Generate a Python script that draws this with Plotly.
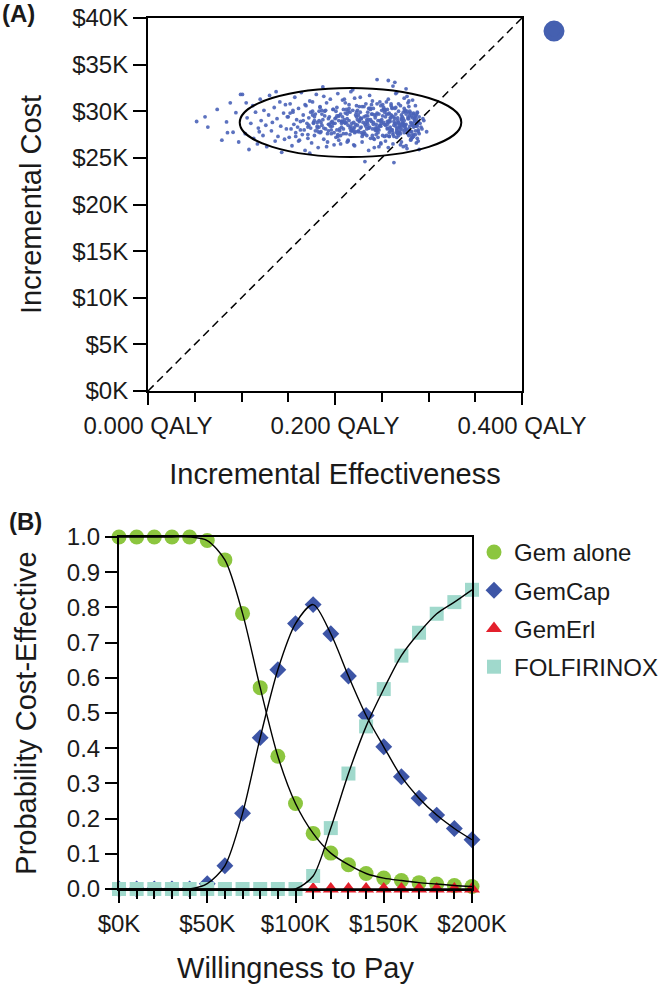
import plotly.graph_objects as go

# ---------------- Panel A data (cost-effectiveness plane) ----------------
cloud_qaly = [
    0.052,0.061,0.064,0.074,0.079,0.084,0.085,0.091,0.094,0.097,0.099,0.088,
    0.101,0.104,0.106,0.108,0.110,0.112,0.113,0.115,0.117,0.118,
    0.120,0.121,0.123,0.124,0.126,0.127,0.129,0.130,0.132,0.133,
    0.135,0.136,0.138,0.139,0.141,0.142,0.143,0.145,0.146,0.147,
    0.148,0.149,0.105,0.119,0.137,
    0.150,0.151,0.152,0.153,0.154,0.155,0.156,0.157,0.158,0.159,
    0.160,0.161,0.162,0.163,0.164,0.165,0.166,0.167,0.168,0.169,
    0.170,0.171,0.172,0.173,0.174,0.175,0.176,0.177,0.178,0.179,
    0.180,0.181,0.182,0.183,0.184,0.185,0.186,0.187,0.188,0.189,
    0.190,0.191,0.192,0.193,0.194,0.195,0.196,0.197,0.198,0.199,
    0.152,0.158,0.163,0.168,0.173,0.178,0.183,0.188,0.193,0.198,
    0.155,0.161,0.166,0.171,0.176,0.181,0.186,0.191,0.196,0.184,
    0.200,0.202,0.203,0.204,0.206,0.207,0.208,0.209,0.211,0.212,
    0.213,0.214,0.215,0.217,0.218,0.219,0.220,0.221,0.222,0.224,
    0.225,0.226,0.227,0.228,0.229,0.231,0.232,0.233,0.234,0.235,
    0.236,0.237,0.238,0.239,0.241,0.242,0.243,0.244,0.245,0.246,
    0.247,0.248,0.249,0.201,0.205,0.210,0.216,0.223,0.230,0.240,
    0.201,0.204,0.207,0.211,0.214,0.218,0.221,0.225,0.228,0.232,
    0.235,0.238,0.242,0.245,0.249,0.203,0.209,0.215,0.220,0.226,
    0.231,0.236,0.240,0.244,0.248,0.202,0.208,0.213,0.219,0.224,
    0.229,0.234,0.239,0.243,0.247,0.206,0.212,0.217,0.222,0.227,
    0.233,0.237,0.241,0.246,0.250,0.204,0.210,0.216,0.223,0.230,
    0.235,0.240,0.245,0.249,0.207,0.214,0.221,0.228,0.236,0.244,
    0.250,0.251,0.252,0.253,0.254,0.255,0.256,0.257,0.258,0.259,
    0.260,0.261,0.262,0.263,0.264,0.265,0.266,0.267,0.268,0.269,
    0.270,0.271,0.272,0.273,0.274,0.275,0.276,0.277,0.278,0.279,
    0.280,0.281,0.282,0.283,0.284,0.285,0.286,0.287,0.288,0.289,
    0.252,0.255,0.258,0.261,0.264,0.267,0.270,0.273,0.276,0.279,
    0.282,0.285,0.288,0.251,0.254,0.257,0.260,0.263,0.266,0.269,
    0.272,0.275,0.278,0.281,0.284,0.287,0.290,0.253,0.256,0.259,
    0.262,0.265,0.268,0.271,0.274,0.277,0.280,0.283,0.286,0.291,
    0.254,0.259,0.264,0.269,0.274,0.279,0.284,0.289,0.292,0.295,
    0.256,0.261,0.266,0.271,0.276,0.281,0.286,0.262,0.270,0.278,
    0.258,0.265,0.272,0.279,0.285,0.290,0.294,0.263,0.275,0.283,
    0.257,0.268,0.277,0.287,0.293,0.298,0.260,0.273,0.282,0.288,
    # dense core
    0.171,0.176,0.182,0.187,0.193,0.198,0.203,0.208,0.213,0.218,
    0.223,0.228,0.233,0.238,0.243,0.248,0.253,0.258,0.263,0.268,
    0.273,0.278,0.283,0.288,0.174,0.179,0.185,0.190,0.196,0.201,
    0.206,0.211,0.216,0.221,0.226,0.231,0.236,0.241,0.246,0.251,
    0.256,0.261,0.266,0.271,0.276,0.281,0.286,0.172,0.178,0.184,
    0.189,0.195,0.200,0.205,0.210,0.215,0.220,0.225,0.230,0.235,
    0.240,0.245,0.250,0.255,0.260,0.265,0.270,0.275,0.280,0.285,
    0.289,0.177,0.183,0.188,0.194,0.199,0.204,0.209,0.214,0.219,
    0.224,0.229,0.234,0.239,0.244,0.249,0.254,0.259,0.264,0.269,
    0.274,0.279,0.284,0.287,0.181,0.186,0.192,0.197,0.202,0.207,
    0.212,0.217,0.222,0.227,0.232,0.237,0.242,0.247,0.252,0.257,
    0.262,0.267,0.272,0.277,0.282,0.286,0.290,0.227,0.238,0.249,
    0.259,0.268,0.276,0.283,0.244,0.256,0.265,0.273,0.281,0.288,
    0.233,0.246,0.258,0.267,0.275,0.284,0.241,0.253,0.263,0.271,
    0.279,0.286,0.236,0.248,0.257,0.266,0.274,0.282,0.289,0.261,
]
cloud_cost = [
    28900,29400,28300,30200,26900,28850,27700,27750,29850,26700,31800,30900,
    31800,27600,29300,25900,28700,30600,27100,29900,26500,28200,
    31300,29000,27400,30100,28500,26200,29600,31700,27900,28800,
    30400,26800,29200,27300,31000,28400,25600,29800,27000,30700,
    28100,29400,30900,27800,32100,
    29400,27200,30800,28100,26300,29900,28600,31500,27700,29100,
    28300,30300,26900,28900,32000,27500,29600,28000,25800,30600,
    28700,27100,29300,31100,28200,26600,30000,28800,27400,29700,
    31800,28400,26100,29000,30400,27800,28500,32600,27000,29500,
    28100,30900,26700,29200,28600,31300,27600,28900,30200,26400,
    29800,27300,28000,30700,25500,29400,28300,31600,27900,28700,
    30100,26800,29000,27500,31000,28200,29700,26200,28800,30500,
    28700,30400,27300,29500,26500,28900,31200,28100,29800,27600,
    29200,26900,30700,28400,27900,32300,28800,26300,29600,30100,
    27800,29000,31500,28300,26700,29400,28600,30800,27400,29900,
    28200,31700,27100,28900,30300,26100,29300,28000,33400,27700,
    29700,28500,26600,30000,28100,29100,27500,30600,28800,31100,
    27200,29500,28300,30900,26800,28700,31400,27900,29200,24600,
    28600,30200,27000,29800,28400,31900,27600,29000,26400,28900,
    30500,28200,27400,29600,31000,28000,29400,26700,30100,28500,
    27300,29100,30700,28000,26200,29700,28800,32100,27800,29300,
    28400,30300,27100,29000,28700,26900,31300,28200,29900,27500,
    29500,28100,30800,26500,28900,30000,27700,29200,25800,28600,
    29100,27400,30200,28600,26800,29700,28200,31300,27700,28900,
    30600,28000,26500,29400,28700,31900,27200,29000,30800,28300,
    27600,29600,28800,26200,30300,28500,32400,27900,29200,28100,
    30000,26900,28700,31200,27500,29300,28400,26600,29800,28000,
    28800,31000,27300,29500,33100,28200,26400,29900,28600,30500,
    27800,29100,27100,30700,28500,26100,29600,28900,32000,27700,
    29400,28300,30900,27000,29700,28600,25900,30200,28100,29300,
    27500,30400,28800,26700,29000,31600,28400,27200,29500,28700,
    30100,27900,29200,28500,31400,27400,29800,26800,28300,29000,
    28600,30300,27700,29100,26300,28800,30600,32700,28200,29400,
    27300,29700,28000,31100,28900,27600,29200,24500,30000,28500,
    33300,28700,26000,29600,28100,27800,30800,28400,27100,29900,
    # dense core
    28300,29600,27800,29100,28600,30200,27500,28900,29700,28100,
    29400,27700,28800,30300,28200,29000,27300,29800,28500,30000,
    28700,27600,29300,28400,29900,27900,28800,30100,28000,29300,
    27400,28700,29900,28300,30500,27800,29100,28600,27200,29500,
    28900,30400,27900,29200,28100,29800,27500,28500,29000,27700,
    30000,28400,29200,27900,28800,30300,28100,29600,27600,28900,
    29700,28300,30100,27400,29300,28700,30600,28000,29500,28400,
    27800,28700,30000,28200,29400,27700,29000,30200,28500,27900,
    29100,30500,28100,29700,27500,28900,29400,28100,30300,27900,
    28600,29800,27300,29200,28800,30100,27600,28400,29500,28700,
    30200,27900,28600,29900,27600,28300,29600,28000,30400,28800,
    27700,29300,28500,30000,27400,28900,29400,28200,29100,30600,
    28300,27400,29700,28600,27900,30200,28400,29200,27800,28700,
    29500,28100,29000,27600,30100,28300,28800,29900,27300,28600,
    29200,27900,30300,28400,29700,28100,27700,29500,28900,28000,
]
assert len(cloud_qaly) == len(cloud_cost)

# 95% confidence ellipse (centre and semi-axes)
ellipse_center_qaly = 0.2166
ellipse_center_cost = 28800
ellipse_half_qaly = 0.1185
ellipse_half_cost = 3700

wtp_threshold = 100000          # $/QALY reference line
qaly_axis_max = 0.4
cost_axis_max = 40000
cost_ticks = [0, 5000, 10000, 15000, 20000, 25000, 30000, 35000, 40000]
cost_ticklabels = ["$0K", "$5K", "$10K", "$15K", "$20K", "$25K", "$30K", "$35K", "$40K"]
qaly_ticks = [0, 0.2, 0.4]
qaly_ticklabels = ["0.000 QALY", "0.200 QALY", "0.400 QALY"]

# ---------------- Panel B data (acceptability curves) ----------------
wtp = [0, 10000, 20000, 30000, 40000, 50000, 60000, 70000, 80000, 90000, 100000,
       110000, 120000, 130000, 140000, 150000, 160000, 170000, 180000, 190000, 200000]
gem_alone = [1.0, 1.0, 1.0, 1.0, 1.0, 0.99, 0.935, 0.783, 0.572, 0.377, 0.243,
             0.158, 0.102, 0.069, 0.044, 0.031, 0.024, 0.018, 0.014, 0.010, 0.007]
gemcap = [0.0, 0.0, 0.0, 0.0, 0.0, 0.015, 0.066, 0.215, 0.430, 0.623, 0.754,
          0.808, 0.725, 0.605, 0.493, 0.404, 0.319, 0.258, 0.210, 0.172, 0.140]
gemerl = [0.0] * 21
folfirinox = [0.0, 0.0, 0.0, 0.0, 0.0, 0.0, 0.0, 0.0, 0.0, 0.0, 0.0,
              0.037, 0.173, 0.328, 0.462, 0.568, 0.663, 0.728, 0.782, 0.815, 0.850]
wtp_ticks = [0, 50000, 100000, 150000, 200000]
wtp_ticklabels = ["$0K", "$50K", "$100K", "$150K", "$200K"]

series_names = ["Gem alone", "GemCap", "GemErl", "FOLFIRINOX"]
series_values = [gem_alone, gemcap, gemerl, folfirinox]
series_colors = ["#8cc63f", "#3d55a6", "#e3202c", "#a0d9cc"]
series_symbols = ["circle", "diamond", "triangle-up", "square"]
series_sizes = [15, 13, 14, 14]

# ---------------- layout helpers (pixel geometry) ----------------
W, H = 669, 988
def fx(p):
    return p / W
def fy(p):
    return 1 - p / H

FONT = "Liberation Sans, Arial, Helvetica, sans-serif"
TICK_FONT = dict(family=FONT, size=24, color="#1a1a1a")
TITLE_FONT = dict(family=FONT, size=29, color="#1a1a1a")
CLOUD_COLOR = "#4a63b8"

fig = go.Figure()

# Panel A
fig.add_trace(go.Scatter(
    x=cloud_qaly, y=cloud_cost, mode="markers",
    marker=dict(size=3.8, color=CLOUD_COLOR, opacity=0.9),
    xaxis="x", yaxis="y", showlegend=False, hoverinfo="skip"))
fig.add_trace(go.Scatter(
    x=[0, qaly_axis_max], y=[0, qaly_axis_max * wtp_threshold], mode="lines",
    line=dict(color="black", width=1.5, dash="8px,5px"),
    xaxis="x", yaxis="y", showlegend=False, hoverinfo="skip"))
# legend key for the simulation cloud (big dot at top right)
fig.add_trace(go.Scatter(
    x=[None], y=[None], mode="markers", name=" ",
    marker=dict(size=16, color="#4560b0", line=dict(color="#4560b0", width=5)),
    xaxis="x", yaxis="y", showlegend=True, legend="legend2"))

fig.add_shape(type="circle", xref="x", yref="y",
              x0=ellipse_center_qaly - ellipse_half_qaly,
              x1=ellipse_center_qaly + ellipse_half_qaly,
              y0=ellipse_center_cost - ellipse_half_cost,
              y1=ellipse_center_cost + ellipse_half_cost,
              line=dict(color="black", width=2))

# Panel B markers
for name, vals, col, sym, sz in zip(series_names, series_values, series_colors,
                                    series_symbols, series_sizes):
    xs = wtp
    ys = vals
    if name == "GemErl":
        xs = wtp[11:]
        ys = vals[11:]
    fig.add_trace(go.Scatter(
        x=xs, y=ys, mode="markers", name=name, legendgroup=name,
        marker=dict(symbol=sym, size=sz, color=col, line=dict(width=0)),
        xaxis="x2", yaxis="y2", cliponaxis=False, legend="legend"))
# Panel B curves
for vals in series_values:
    fig.add_trace(go.Scatter(
        x=wtp, y=vals, mode="lines",
        line=dict(color="black", width=1.4, shape="spline", smoothing=0.8),
        xaxis="x2", yaxis="y2", cliponaxis=False, showlegend=False, hoverinfo="skip"))

axis_common = dict(showgrid=False, zeroline=False, showline=True, linecolor="black",
                   linewidth=2, mirror=True, ticks="outside", tickcolor="black",
                   tickwidth=2, tickfont=TICK_FONT, automargin=False, tickangle=0)

fig.update_layout(
    width=W, height=H, margin=dict(l=0, r=0, t=0, b=0, autoexpand=False),
    paper_bgcolor="white", plot_bgcolor="white",
    font=dict(family=FONT),
    xaxis=dict(domain=[fx(148), fx(522)], range=[0, qaly_axis_max], anchor="y",
               tickvals=qaly_ticks, ticktext=qaly_ticklabels, ticklen=12,
               minor=dict(dtick=0.05, ticks="outside", ticklen=9, tickwidth=2, tickcolor="black"),
               title=dict(text="Incremental Effectiveness", font=TITLE_FONT, standoff=26),
               **axis_common),
    yaxis=dict(domain=[fy(391), fy(18)], range=[0, cost_axis_max], anchor="x",
               tickvals=cost_ticks, ticktext=cost_ticklabels, ticklen=13,
               title=dict(text="Incremental Cost", font=TITLE_FONT, standoff=22),
               **axis_common),
    xaxis2=dict(domain=[fx(119), fx(472)], range=[0, 200000], anchor="y2",
                tickvals=wtp_ticks, ticktext=wtp_ticklabels, ticklen=12,
                minor=dict(dtick=10000, ticks="outside", ticklen=8, tickwidth=2, tickcolor="black"),
                title=dict(text="Willingness to Pay", font=TITLE_FONT, standoff=22),
                **axis_common),
    yaxis2=dict(domain=[fy(889), fy(537)], range=[0, 1], anchor="x2",
                dtick=0.1, tickformat=".1f", ticklen=12,
                title=dict(text="Probability Cost-Effective", font=TITLE_FONT, standoff=22),
                **axis_common),
    legend=dict(x=fx(474), y=fy(530), xanchor="left", yanchor="top",
                font=dict(family=FONT, size=24, color="#1a1a1a"),
                bgcolor="rgba(0,0,0,0)", itemsizing="trace", tracegroupgap=4),
    legend2=dict(x=fx(534), y=fy(9), xanchor="left", yanchor="top",
                 font=dict(family=FONT, size=24), bgcolor="rgba(0,0,0,0)",
                 itemsizing="trace"),
    annotations=[
        dict(text="<b>(A)</b>", x=fx(0), y=fy(14), xref="paper", yref="paper",
             xanchor="left", yanchor="middle", showarrow=False,
             font=dict(family=FONT, size=24, color="#1a1a1a")),
        dict(text="<b>(B)</b>", x=fx(7), y=fy(521), xref="paper", yref="paper",
             xanchor="left", yanchor="middle", showarrow=False,
             font=dict(family=FONT, size=24, color="#1a1a1a")),
    ],
)

fig.write_html("out.html", config={"displayModeBar": False},
               post_script="document.body.style.margin='0px';document.body.style.overflow='hidden';")
